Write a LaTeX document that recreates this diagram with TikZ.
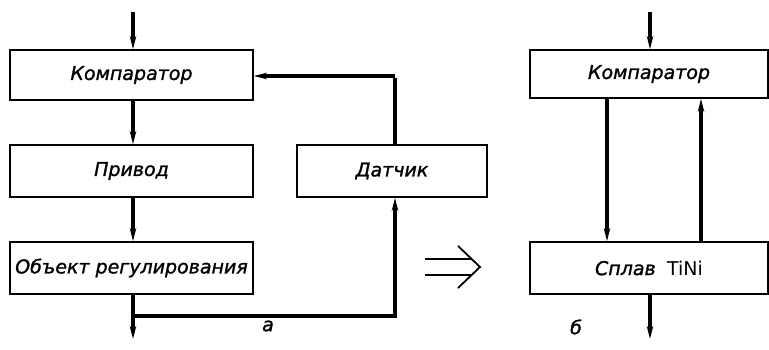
\documentclass[tikz,border=0pt]{standalone}
\usepackage{fontspec}
\setmainfont{DejaVu Sans}[ItalicFeatures={FakeBold=1.3}]
\usetikzlibrary{arrows.meta}
\tikzset{
  blk/.style={draw, line width=1.8pt, inner sep=0pt},
  conn/.style={line width=3.4pt, -{Stealth[length=13pt,width=6.5pt]}},
  line/.style={line width=3.4pt},
  lbl/.style={font=\fontsize{19}{19}\selectfont\itshape},
}
\begin{document}
\begin{tikzpicture}[x=1pt,y=-1pt]
\useasboundingbox (0,0) rectangle (769,349);
% left diagram
\node[blk, minimum width=243pt, minimum height=50pt, lbl] (komp) at (131.5,75) {Компаратор};
\node[blk, minimum width=243pt, minimum height=52pt, lbl] (priv) at (131.5,171) {Привод};
\node[blk, minimum width=243pt, minimum height=52pt, lbl] (obj) at (131.5,268) {Объект регулирования};
\node[blk, minimum width=190pt, minimum height=52pt, lbl] (dat) at (392,171) {Датчик};
\coordinate (inA) at (133,12);
\coordinate (outA) at (133,339);
\coordinate (br) at (133,316);
\coordinate (brR) at (395,316);
\coordinate (topR) at (395,76);
\draw[conn] (inA) -- (inA |- komp.north);
\draw[conn] (komp.south -| inA) -- (priv.north -| inA);
\draw[conn] (priv.south -| inA) -- (obj.north -| inA);
\draw[conn] (obj.south -| inA) -- (outA);
\draw[line] ([xshift=-1.7pt]br) -- ([xshift=1.7pt]brR);
\draw[conn] (brR) -- (dat.south -| brR);
\draw[line] (dat.north -| topR) -- ([yshift=-1.7pt]topR);
\draw[conn] (topR) -- (komp.east |- topR);
\node[lbl] (la) at (268,326) {а};
% double arrow
\coordinate (d1) at (425,259);
\coordinate (d2) at (425,275);
\coordinate (dt) at (480,267);
\draw[line width=1.8pt] (d1) -- (472,259);
\draw[line width=1.8pt] (d2) -- (472,275);
\draw[line width=1.8pt] (458,246) -- (dt) -- (458,288);
% right diagram
\node[blk, minimum width=238pt, minimum height=48pt, lbl] (kompB) at (649,74) {Компаратор};
\node[blk, minimum width=238pt, minimum height=52pt, lbl] (spl) at (649,268) {Сплав\hspace{0.6em}\upshape TiNi};
\coordinate (inB) at (650,12);
\coordinate (outB) at (650,339);
\coordinate (dn) at (607,0);
\coordinate (up) at (701,0);
\draw[conn] (inB) -- (inB |- kompB.north);
\draw[conn] (kompB.south -| dn) -- (spl.north -| dn);
\draw[conn] (spl.north -| up) -- (kompB.south -| up);
\draw[conn] (spl.south -| outB) -- (outB);
\node[lbl] (lb) at (576,327) {б};
\end{tikzpicture}
\end{document}
